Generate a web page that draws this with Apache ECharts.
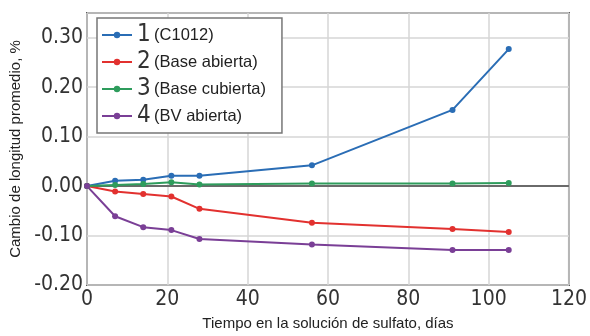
<!DOCTYPE html>
<html>
<head>
<meta charset="utf-8">
<script src="https://cdn.jsdelivr.net/npm/echarts@6/dist/echarts.min.js"></script>
<style>
  html, body { margin: 0; padding: 0; background: #fff; }
  #chart { width: 590px; height: 336px; }
</style>
</head>
<body>
<div id="chart"></div>
<script>
// días en la solución de sulfato
const dias = [0, 7, 14, 21, 28, 56, 91, 105];

// cambio de longitud promedio, %
const serieC1012 = [0, 0.011, 0.013, 0.021, 0.021, 0.042, 0.154, 0.277];
const serieBaseAbierta = [0, -0.011, -0.016, -0.021, -0.046, -0.074, -0.087, -0.093];
const serieBaseCubierta = [0, 0.002, 0.004, 0.008, 0.003, 0.005, 0.005, 0.006];
const serieBVAbierta = [0, -0.061, -0.083, -0.089, -0.107, -0.118, -0.129, -0.129];

const nombres = ['1 (C1012)', '2 (Base abierta)', '3 (Base cubierta)', '4 (BV abierta)'];
const colores = ['#2a6db5', '#e2312f', '#2e9c5c', '#7a3f96'];

const font = "'DejaVu Sans Condensed', 'Liberation Sans', Arial, sans-serif";
const fontTexto = "'Liberation Sans', Arial, sans-serif";

function pares(vals) {
  return dias.map((d, i) => [d, vals[i]]);
}

function serie(idx, vals) {
  return {
    name: nombres[idx],
    type: 'line',
    data: pares(vals),
    symbol: 'circle',
    symbolSize: 6,
    lineStyle: { width: 2, color: colores[idx] },
    itemStyle: { color: colores[idx] },
    z: 3
  };
}

const lineas = [
  serie(0, serieC1012),
  serie(1, serieBaseAbierta),
  serie(2, serieBaseCubierta),
  serie(3, serieBVAbierta)
];
// linea del cero
lineas[2].markLine = {
  silent: true,
  symbol: 'none',
  label: { show: false },
  lineStyle: { color: '#6a6a6a', width: 2, type: 'solid' },
  data: [{ yAxis: 0 }],
  z: 1
};

let chart = echarts.init(document.getElementById('chart'));
chart.setOption({
  animation: false,
  backgroundColor: '#fff',
  grid: {
    left: 85, right: 17, top: 13, bottom: 50,
    show: true, borderColor: '#5a5a5a', borderWidth: 2
  },
  legend: {
    orient: 'vertical',
    left: 97, top: 18,
    padding: [5, 16, 5, 4],
    itemGap: 3,
    itemWidth: 30,
    itemHeight: 8,
    borderColor: '#777',
    borderWidth: 1.5,
    backgroundColor: '#fff',
    formatter: function (name) {
      let i = name.indexOf(' ');
      return '{n|' + name.slice(0, i) + '} {t|' + name.slice(i + 1) + '}';
    },
    textStyle: {
      rich: {
        n: { fontFamily: font, fontSize: 24, color: '#333', lineHeight: 22 },
        t: { fontFamily: fontTexto, fontSize: 16.5, color: '#222', lineHeight: 22 }
      }
    }
  },
  xAxis: {
    type: 'value',
    min: 0, max: 120, interval: 20,
    name: 'Tiempo en la solución de sulfato, días',
    nameLocation: 'middle',
    nameGap: 31,
    nameTextStyle: { fontFamily: fontTexto, fontSize: 15, color: '#222' },
    axisLine: { show: false },
    axisTick: { show: false },
    axisLabel: { fontFamily: font, fontSize: 21, color: '#333', margin: 4 },
    splitLine: { show: true, lineStyle: { color: '#d6d6d6', width: 1.5 } }
  },
  yAxis: {
    type: 'value',
    min: -0.2, max: 0.35, interval: 0.1,
    name: 'Cambio de longitud promedio, %',
    nameLocation: 'middle',
    nameGap: 64,
    nameTextStyle: { fontFamily: fontTexto, fontSize: 15, color: '#222' },
    axisLine: { show: false },
    axisTick: { show: false },
    axisLabel: {
      fontFamily: font, fontSize: 21, color: '#333', margin: 4,
      showMaxLabel: false,
      formatter: v => v.toFixed(2)
    },
    splitLine: { show: true, lineStyle: { color: '#d6d6d6', width: 1.5 } }
  },
  series: lineas
});
window.addEventListener('resize', () => {
  chart.resize();
});
</script>
</body>
</html>
